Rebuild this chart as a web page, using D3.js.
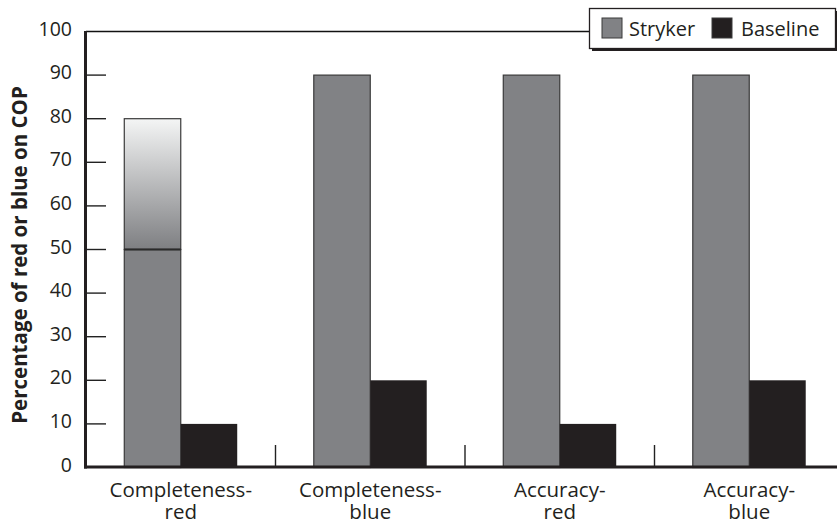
<!DOCTYPE html>
<html><head><meta charset="utf-8">
<script src="https://cdn.jsdelivr.net/npm/d3@7"></script>
<style>body{margin:0;background:#fff}svg{display:block;font-family:"Open Sans",sans-serif}</style>
</head><body>
<svg id="c" width="837" height="525"></svg>
<script>
const categories = [["Completeness-","red"],["Completeness-","blue"],["Accuracy-","red"],["Accuracy-","blue"]];
const stryker = [80, 90, 90, 90];
const strykerSolid = [50, 90, 90, 90];
const baseline = [10, 20, 10, 20];
const yTicks = [0,10,20,30,40,50,60,70,80,90,100];
const seriesNames = ["Stryker","Baseline"];
const yTitle = "Percentage of red or blue on COP";

const GRAY = "#818285", BLACK = "#231f20", EDGE = "#3a3a3a";
const svg = d3.select("#c");
const x = d3.scaleBand().domain(d3.range(categories.length)).range([86, 844]).padding(0);
const y = d3.scaleLinear().domain([0,100]).range([467.5, 31.5]);
const bw = x.bandwidth()*0.298;

const defs = svg.append("defs");
const g = defs.append("linearGradient").attr("id","grad").attr("x1",0).attr("y1",0).attr("x2",0).attr("y2",1);
g.append("stop").attr("offset","0%").attr("stop-color","#f4f5f5");
g.append("stop").attr("offset","100%").attr("stop-color","#7e7f82");

// top frame line
svg.append("line").attr("x1",86).attr("x2",837).attr("y1",y(100)).attr("y2",y(100)).attr("stroke","#111").attr("stroke-width",1.3);

// ticks
svg.selectAll(".tk").data(yTicks.filter(d=>d>0&&d<100)).join("line")
  .attr("x1",86).attr("x2",106).attr("y1",d=>y(d)).attr("y2",d=>y(d)).attr("stroke","#222").attr("stroke-width",1.4);
svg.selectAll(".tl").data(yTicks).join("text")
  .attr("x",72).attr("y",d=>y(d)-3.5).attr("text-anchor","end").attr("dominant-baseline","central")
  .attr("font-size",19.5).attr("fill","#231f20").text(d=>d);

const cx = i => x(i)+x.bandwidth()/2;
// gray bars: gradient part
svg.selectAll(".gg").data(stryker.map((v,i)=>({v,i,s:strykerSolid[i]})).filter(d=>d.v>d.s)).join("rect")
  .attr("x",d=>cx(d.i)-bw).attr("width",bw).attr("y",d=>y(d.v)).attr("height",d=>y(d.s)-y(d.v))
  .attr("fill","url(#grad)").attr("stroke",EDGE).attr("stroke-width",1.2);
svg.selectAll(".gs").data(strykerSolid.map((v,i)=>({v,i}))).join("rect")
  .attr("x",d=>cx(d.i)-bw).attr("width",bw).attr("y",d=>y(d.v)).attr("height",d=>y(0)-y(d.v))
  .attr("fill",GRAY).attr("stroke",EDGE).attr("stroke-width",1.2);
svg.selectAll(".gl").data(stryker.map((v,i)=>({v,i,s:strykerSolid[i]})).filter(d=>d.v>d.s)).join("line")
  .attr("x1",d=>cx(d.i)-bw).attr("x2",d=>cx(d.i)).attr("y1",d=>y(d.s)).attr("y2",d=>y(d.s))
  .attr("stroke","#2a2a2a").attr("stroke-width",2);
svg.selectAll(".bb").data(baseline.map((v,i)=>({v,i}))).join("rect")
  .attr("x",d=>cx(d.i)).attr("width",bw).attr("y",d=>y(d.v)).attr("height",d=>y(0)-y(d.v))
  .attr("fill",BLACK);

// separators
svg.selectAll(".sep").data(d3.range(1,categories.length)).join("line")
  .attr("x1",d=>x(d)).attr("x2",d=>x(d)).attr("y1",445).attr("y2",467).attr("stroke","#222").attr("stroke-width",1.4);

// axes
svg.append("line").attr("x1",84).attr("x2",837).attr("y1",467).attr("y2",467).attr("stroke","#231f20").attr("stroke-width",3);
svg.append("line").attr("x1",85.5).attr("x2",85.5).attr("y1",y(100)-0.5).attr("y2",468.5).attr("stroke","#231f20").attr("stroke-width",3);

// category labels
categories.forEach((c,i)=>{
  const t = svg.append("text").attr("text-anchor","middle").attr("font-size",20.5).attr("fill","#231f20");
  t.append("tspan").attr("x",cx(i)).attr("y",497).text(c[0]);
  t.append("tspan").attr("x",cx(i)).attr("y",518.5).text(c[1]);
});

// y title
svg.append("text").attr("transform","translate(27,255) rotate(-90)").attr("text-anchor","middle")
  .attr("font-size",20.5).attr("font-weight","bold").attr("fill","#231f20").text(yTitle);

// legend
const lg = svg.append("g");
lg.append("rect").attr("x",592).attr("y",11).attr("width",246).attr("height",40).attr("fill","#231f20");
lg.append("rect").attr("x",589.5).attr("y",8.5).attr("width",246).attr("height",40).attr("fill","#fff").attr("stroke","#231f20").attr("stroke-width",1.3);
const sw = [GRAY, BLACK], sx = [602, 712], tx = [629, 741];
seriesNames.forEach((n,i)=>{
  lg.append("rect").attr("x",sx[i]).attr("y",18).attr("width",20).attr("height",20).attr("fill",sw[i]).attr("stroke",EDGE).attr("stroke-width",1);
  lg.append("text").attr("x",tx[i]).attr("y",36).attr("font-size",20).attr("fill","#231f20").text(n);
});
</script>
</body></html>
